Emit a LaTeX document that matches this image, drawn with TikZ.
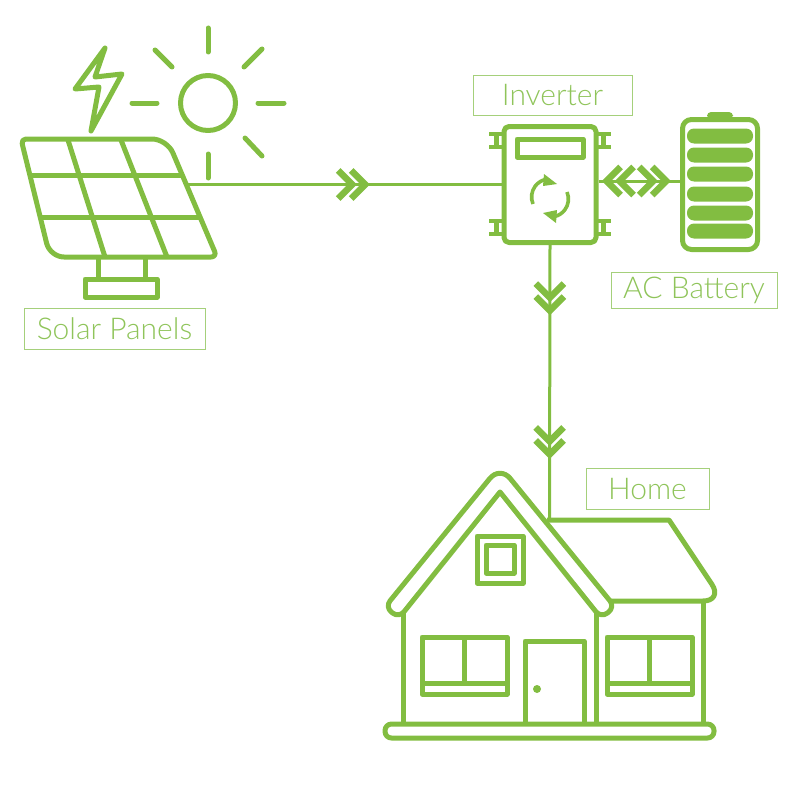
\documentclass[tikz,border=0pt]{standalone}
\usepackage{fontspec}
\setmainfont{Lato}[UprightFont=* Light]
\usepackage{tikz}
\usetikzlibrary{arrows.meta,positioning,calc}
\definecolor{solargreen}{HTML}{82BD41}
\definecolor{labelgreen}{HTML}{8FC45A}
\tikzset{
  icon/.style={
    draw=solargreen,
    line width=5pt,
    line join=round
  },
  ray/.style={
    icon,
    line cap=round
  },
  link/.style={
    draw=solargreen,
    line width=3pt
  },
  labelbox/.style={
    draw=labelgreen!80,
    line width=1pt,
    text=labelgreen,
    inner sep=0pt,
    font=\fontsize{30}{34}\selectfont
  },
  unitbox/.style={
    icon,
    rounded corners=5pt,
    inner sep=0pt
  },
  cell/.style={
    fill=solargreen,
    rounded corners=7pt
  },
  chevrons/.pic={
    \draw[draw=solargreen,line width=6.5pt] (-18,-14) -- (-4,0) -- (-18,14);
    \draw[draw=solargreen,line width=6.5pt] (-31,-14) -- (-17,0) -- (-31,14);
  }
}
\begin{document}
\begin{tikzpicture}[x=1pt,y=-1pt]
\useasboundingbox (0,0) rectangle (800,800);
\node[labelbox, minimum width=181pt, minimum height=41pt] (solarlabel) at (114.5,328.5) {Solar Panels};
\node[labelbox, minimum width=159pt, minimum height=40pt] (inverterlabel) at (552.5,95) {Inverter};
\node[labelbox, minimum width=166pt, minimum height=36pt] (batterylabel) at (694,290) {AC Battery};
\node[labelbox, minimum width=123pt, minimum height=41pt] (homelabel) at (647.5,488.5) {Home};
\node[unitbox, minimum width=92pt, minimum height=116pt] (inverter) at (550,184.5) {};
\node[unitbox, rounded corners=9pt, minimum width=75pt, minimum height=130pt] (battery) at (720,184.5) {};
\coordinate (panelport) at (188,184.5);
\coordinate (batteryport) at (680,181);
\coordinate (homeport) at (549.5,520);
\draw[icon] (208,103) circle (27.5);
\draw[ray] (208,28) -- (208,52);
\draw[ray] (208,154) -- (208,178);
\draw[ray] (132,103) -- (157,103);
\draw[ray] (258,103) -- (284,103);
\draw[ray] (155,50) -- (172,67);
\draw[ray] (262,49) -- (244,67);
\draw[ray] (245,138) -- (262,156);
\draw[icon] (105,48) -- (75,89) -- (99,87) -- (91,131) -- (122,74) -- (95,77) -- cycle;
\draw[icon, rounded corners=5pt] (21,139) [rounded corners=15pt] -- (167,139) [rounded corners=6pt] -- (217,257) [rounded corners=14pt] -- (50,257) [rounded corners=5pt] -- cycle;
\draw[icon] (30,175) -- (183,175);
\draw[icon] (41,217) -- (200,217);
\draw[icon] (68,140) -- (105,257);
\draw[icon] (121,140) -- (167,257);
\draw[icon] (98,258) -- (98,279);
\draw[icon] (145,258) -- (145,279);
\draw[icon] (85,279) rectangle (157,297);
\draw[icon] (517,139) rectangle (583,157);
\foreach \edge/\tab/\post in {596/611/603.5, 504/489/496.5}{
  \foreach \high in {132, 219}{
    \draw[icon, line width=4pt, line join=miter] (\edge,\high+2) -- (\tab,\high+2);
    \draw[icon, line width=4pt, line join=miter] (\edge,\high+15) -- (\tab,\high+15);
    \draw[icon, line join=miter] (\post,\high+2) -- (\post,\high+15);
  }
}
\draw[icon, line width=3.6pt] (533,204) arc[start angle=157, end angle=255, radius=18];
\fill[solargreen] (544,174) -- (557,184) -- (543,186) -- cycle;
\draw[icon, line width=3.6pt] (567,192) arc[start angle=-23, end angle=75, radius=18];
\fill[solargreen] (556,223) -- (543,213) -- (557,210) -- cycle;
\fill[solargreen, rounded corners=4pt] (707,119) -- (707,112) -- (733,112) -- (733,119) -- cycle;
\foreach \row in {136,155,174,194,213,231}{
  \fill[cell] (687,\row-7.5) rectangle (753,\row+7.5);
}
\draw[link] (panelport) -- (inverter.west) pic[pos=0.578] {chevrons};
\draw[link] (inverter.east |- batteryport) -- (batteryport)
  pic[pos=0.88] {chevrons}
  pic[pos=0.05, rotate=180] {chevrons};
\draw[link] (inverter.south) -- (homeport)
  pic[pos=0.253, rotate=-90] {chevrons}
  pic[pos=0.776, rotate=-90] {chevrons};
\draw[icon, rounded corners=16pt] (500,466) [rounded corners=8pt] -- (615,607) -- (601,618) [sharp corners] -- (500,492) [rounded corners=8pt] -- (399,618) -- (385,607) [rounded corners=16pt] -- cycle;
\draw[icon] (403,612) -- (403,724);
\draw[icon] (596,612) -- (596,724);
\draw[icon] (703,601) -- (703,724);
\draw[icon] (547,520) -- (669,520) [rounded corners=20pt] -- (723,601) -- (610,601);
\draw[icon] (477,536) rectangle (523,583);
\draw[icon] (486,545) rectangle (514,573);
\draw[icon] (422,637) rectangle (507,694);
\draw[icon] (422,683) -- (507,683);
\draw[icon] (464,637) -- (464,683);
\draw[icon] (607,637) rectangle (692,694);
\draw[icon] (607,683) -- (692,683);
\draw[icon] (649,637) -- (649,683);
\draw[icon] (525,724) -- (525,641) -- (584,641) -- (584,724);
\fill[solargreen] (537,689) circle (4);
\draw[icon, rounded corners=6.5pt] (385,724) rectangle (714,738);
\end{tikzpicture}
\end{document}
